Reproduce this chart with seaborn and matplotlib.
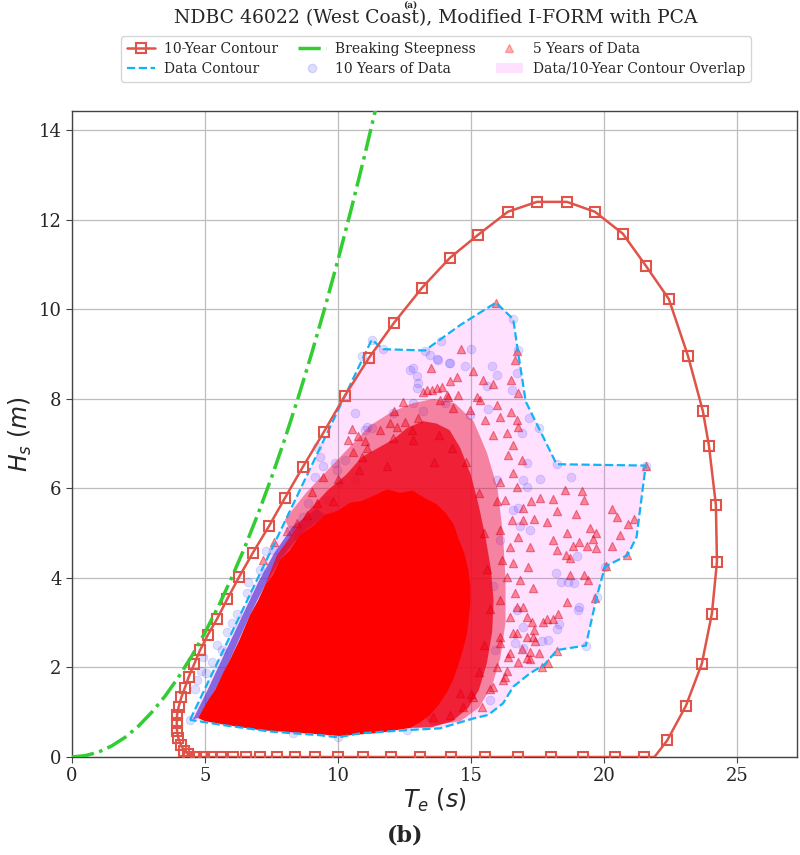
import numpy as np
import matplotlib
matplotlib.use("Agg")
import matplotlib.pyplot as plt
import seaborn as sns
from matplotlib.patches import Polygon, Patch
from matplotlib.lines import Line2D

# ---------------- data ----------------
title = "NDBC 46022 (West Coast), Modified I-FORM with PCA"
x_ticks = [0, 5, 10, 15, 20, 25]
y_ticks = [0, 2, 4, 6, 8, 10, 12, 14]

# 10-year contour (Te, Hs)
c10_te = [4.37, 4.39, 4.68, 4.97, 5.26, 5.62, 6.07, 6.55, 7.07, 7.70, 8.38, 9.15, 10.02,
          10.94, 11.98, 13.07, 14.25, 15.51, 16.76, 18.02, 19.23, 20.43, 21.51, 21.90,
          22.38, 23.08, 23.68, 24.06, 24.25, 24.21, 23.95, 23.72, 23.16, 22.44, 21.58,
          20.71, 19.66, 18.61, 17.48, 16.39, 15.26, 14.21, 13.16, 12.11, 11.17, 10.26,
          9.47, 8.68, 8.01, 7.41, 6.80, 6.28, 5.83, 5.45, 5.10, 4.81, 4.59, 4.39, 4.24,
          4.11, 4.01, 3.95, 3.94, 3.95, 4.00, 4.10, 4.22, 4.37]
c10_hs = [0.06, 0.0, 0.0, 0.0, 0.0, 0.0, 0.0, 0.0, 0.0, 0.0, 0.0, 0.0, 0.0,
          0.0, 0.0, 0.0, 0.0, 0.0, 0.0, 0.0, 0.0, 0.0, 0.0, 0.0,
          0.37, 1.14, 2.08, 3.20, 4.36, 5.63, 6.95, 7.73, 8.96, 10.23, 10.97,
          11.69, 12.18, 12.40, 12.40, 12.18, 11.66, 11.15, 10.48, 9.70, 8.92, 8.07,
          7.26, 6.48, 5.79, 5.16, 4.56, 4.02, 3.52, 3.08, 2.72, 2.38, 2.07, 1.79, 1.54,
          1.33, 1.12, 0.94, 0.75, 0.57, 0.42, 0.26, 0.14, 0.06]

# data contour (Te, Hs)
dc_te = [4.44, 11.27, 11.70, 13.27, 14.60, 15.94, 16.59, 16.76, 17.06, 17.55, 18.22,
         21.57, 21.23, 20.89, 20.04, 19.73, 19.32, 18.24, 17.76, 17.22, 16.59, 16.21,
         15.65, 15.09, 13.83, 12.58, 10.83, 10.01, 9.26, 8.32, 7.44, 7.07, 5.60, 4.44]
dc_hs = [0.83, 9.32, 9.11, 9.08, 9.65, 10.15, 9.78, 9.09, 7.94, 7.35, 6.54,
         6.51, 4.92, 4.51, 4.25, 3.58, 2.49, 2.39, 2.06, 1.87, 1.57, 1.20,
         0.94, 0.86, 0.64, 0.60, 0.53, 0.44, 0.49, 0.53, 0.57, 0.60, 0.72, 0.83]

# breaking steepness (Te, Hs)
bs_te = [0.0, 0.5, 1.0, 1.5, 2.0, 2.5, 3.0, 3.5, 4.0, 4.5, 5.0, 5.5, 6.0, 6.5, 7.0,
         7.5, 8.0, 8.5, 9.0, 9.5, 10.0, 10.5, 11.0, 11.5]
bs_hs = [0.0, 0.03, 0.11, 0.25, 0.44, 0.69, 1.00, 1.36, 1.78, 2.25, 2.78, 3.36, 4.00,
         4.69, 5.44, 6.24, 7.10, 8.02, 8.99, 10.02, 11.10, 12.24, 13.43, 14.68]

# saturated core of the data cloud
core_te = [4.74, 5.10, 5.38, 5.70, 5.94, 6.30, 6.69, 7.00, 7.26, 7.55, 7.82, 8.20, 8.57,
           9.05, 9.51, 10.00, 10.45, 10.90, 11.39, 11.85, 12.33, 12.80, 13.27, 13.70,
           14.05, 14.35, 14.55, 14.75, 14.90, 14.98, 14.98, 14.92, 14.85, 14.70, 14.55,
           14.35, 14.10, 13.80, 13.46, 13.10, 12.71, 11.58, 10.08, 8.57, 7.07, 5.75, 5.00]
core_hs = [0.87, 1.25, 1.50, 1.90, 2.17, 2.62, 3.17, 3.50, 3.84, 4.05, 4.40, 4.62, 4.96,
           5.15, 5.41, 5.50, 5.68, 5.72, 5.85, 5.98, 5.90, 5.95, 5.78, 5.65,
           5.45, 5.20, 4.85, 4.55, 4.18, 3.80, 3.45, 3.10, 2.75, 2.40, 2.10,
           1.75, 1.45, 1.18, 0.94, 0.78, 0.65, 0.54, 0.47, 0.54, 0.60, 0.72, 0.80]
# closely packed 5-year points around the core (inner and outer rings)
packed_te = [7.26, 7.70, 8.30, 8.90, 9.60, 10.30, 10.90, 11.50, 12.10, 12.60, 13.20,
             13.70, 14.20, 14.60, 15.00, 15.30, 15.55, 15.75, 15.85, 15.80, 15.60, 15.30,
             14.90, 14.30, 13.50, 12.70, 10.00, 8.00]
packed_hs = [3.84, 4.50, 5.00, 5.50, 5.95, 6.30, 6.70, 6.90, 7.10, 7.35, 7.50,
             7.45, 7.30, 6.90, 6.30, 5.60, 4.90, 4.20, 3.50, 2.80, 2.10, 1.50,
             1.10, 0.80, 0.66, 0.65, 2.00, 3.00]
outer_te = [8.00, 8.80, 9.60, 10.40, 11.20, 12.00, 12.80, 13.60, 14.40, 15.10, 15.60,
            16.00, 16.20, 16.30, 16.30, 16.10, 15.80, 15.30, 14.60, 13.50, 12.00, 10.00]
outer_hs = [5.30, 5.90, 6.40, 6.90, 7.40, 7.70, 7.90, 8.00, 7.90, 7.50, 6.80,
            6.00, 5.00, 4.00, 3.00, 2.20, 1.60, 1.10, 0.80, 0.70, 2.00, 3.00]
# closely packed 10-year points along the left edge of the core
packed10_te = [4.55, 5.10, 5.65, 6.40, 7.00, 7.60, 8.30, 9.20, 9.51, 8.57, 7.82, 7.26,
               6.69, 5.94, 5.38, 4.74]
packed10_hs = [0.84, 1.50, 2.20, 3.15, 3.90, 4.55, 5.15, 5.55, 5.41, 4.96, 4.40, 3.84,
               3.17, 2.17, 1.50, 0.87]

# scattered 5-year points
t5_te = [18.53, 19.16, 17.59, 18.07, 17.26, 19.25, 18.22, 18.95, 20.29, 20.50, 21.14, 20.91,
         20.60, 19.70, 19.47, 19.58, 19.06, 18.85, 19.35, 19.70, 20.29, 18.60, 17.85, 17.38,
         18.09, 18.22, 18.57, 18.72, 20.88, 20.08, 19.26, 19.41, 18.72, 19.66, 18.62, 18.28,
         17.85, 17.70, 18.07, 17.28, 17.37, 17.09, 17.41, 17.57, 17.66, 17.91, 18.24, 17.22,
         16.93, 21.57,
         13.48, 14.62, 15.06, 14.46, 14.21, 15.84, 16.50, 16.77, 16.64, 16.74, 15.97, 16.49,
         15.44, 13.21, 12.46, 12.11, 13.52, 13.71, 13.90, 14.09, 14.52, 15.21, 15.34, 14.96,
         14.31, 15.54, 16.09, 16.72, 16.78, 11.95, 12.52, 15.94,
         10.52, 10.77, 11.02, 10.39, 10.58, 10.89, 11.08, 12.21, 12.08, 13.02, 13.33, 14.15,
         13.83, 9.45, 9.01, 9.20, 9.82, 8.45, 8.82, 11.58, 11.83, 12.83,
         16.72, 17.09, 16.59, 16.09, 16.40, 16.78, 17.09, 16.34, 16.21, 15.71, 15.40, 15.09,
         14.59, 14.71, 14.21, 13.58, 17.34, 17.22,
         15.84, 16.34, 16.59, 16.40, 16.91, 16.59, 16.09, 16.72, 16.28, 15.97, 16.97, 16.53,
         16.09, 16.97, 16.78, 16.47, 17.22, 16.15, 16.59, 17.15, 16.34, 16.84, 17.34, 16.65,
         16.09, 16.97, 16.47, 16.72, 16.09, 16.47, 15.97, 16.28, 15.84,
         14.80, 14.30, 13.80, 15.30, 15.50, 15.60, 15.70, 15.50, 15.30, 15.00, 10.00, 10.80,
         12.80, 13.60, 7.60, 8.10, 7.20]
t5_hs = [5.97, 5.95, 5.78, 5.77, 5.71, 5.73, 5.50, 5.42, 5.53, 5.36, 5.32, 5.20,
         4.96, 5.00, 5.11, 4.87, 4.81, 4.72, 4.72, 4.66, 4.72, 5.00, 5.24, 5.32,
         4.85, 4.63, 4.51, 4.45, 4.51, 4.27, 4.07, 3.96, 4.07, 3.55, 3.47, 3.20,
         3.09, 3.01, 3.08, 3.02, 2.84, 2.69, 2.60, 2.33, 2.00, 2.11, 2.36, 2.18,
         2.41, 6.51,
         8.69, 9.11, 8.63, 8.48, 8.39, 8.33, 8.42, 8.13, 8.87, 9.08, 7.87, 7.70,
         8.42, 8.16, 7.94, 7.72, 8.20, 8.24, 8.26, 8.09, 8.09, 8.05, 7.98, 7.75,
         7.79, 7.53, 7.59, 7.53, 7.38, 7.46, 7.49, 10.15,
         7.32, 7.16, 7.05, 7.08, 6.82, 6.70, 6.90, 7.38, 7.12, 7.57, 8.20, 8.05,
         7.98, 6.26, 5.93, 5.67, 5.71, 5.22, 5.41, 7.31, 6.49, 7.08,
         3.36, 3.13, 2.76, 2.54, 2.24, 2.13, 2.21, 1.91, 1.72, 1.53, 1.12, 1.35,
         1.42, 1.12, 0.94, 0.90, 2.69, 2.35,
         7.20, 7.23, 6.97, 6.75, 6.64, 6.34, 6.15, 6.04, 5.74, 5.71, 5.56, 5.30,
         5.07, 5.30, 4.92, 4.70, 4.70, 4.40, 4.33, 4.25, 4.03, 3.96, 3.77, 3.66,
         3.51, 3.36, 3.13, 2.76, 2.69, 2.32, 2.02, 1.79, 1.57,
         6.60, 6.90, 7.20, 5.90, 5.00, 4.20, 3.30, 2.50, 1.90, 1.40, 6.20, 6.40,
         7.30, 6.60, 4.80, 5.05, 4.40]

# scattered 10-year points
d10_te = [17.59, 18.75, 19.00, 18.20, 18.88, 19.05, 19.01, 18.31, 18.23, 17.91, 17.66, 16.97,
          17.09, 16.78, 16.59, 16.84, 17.22, 18.66, 18.39, 15.71,
          13.86, 15.00, 15.79, 15.97, 14.77, 14.17, 13.73, 12.96, 12.81, 13.46, 15.59, 16.74,
          16.53, 15.65, 16.91, 17.19, 14.96, 14.02, 12.96, 13.21,
          10.89, 12.71, 13.02, 13.77, 14.21, 10.26, 9.95, 9.89, 9.45, 9.32, 9.14, 10.08,
          10.64, 11.02, 11.08, 11.27, 10.64, 12.08, 12.83, 9.20, 8.88, 8.70, 9.64, 7.07,
          7.57, 8.20, 6.57,
          5.82, 5.44, 5.25, 5.04, 4.84, 4.69, 4.62, 4.91, 5.63,
          16.65, 16.97, 15.97, 17.09, 16.09, 16.72, 15.90, 16.97, 15.84,
          11.27, 11.70, 13.27, 16.59, 21.57, 19.32, 4.44, 19.73, 17.55, 16.76, 18.22, 20.04,
          6.20, 6.60, 7.30, 6.00, 10.00, 8.30, 12.60]
d10_hs = [6.21, 6.26, 4.48, 4.10, 3.88, 3.36, 3.28, 2.97, 2.85, 2.61, 2.60, 6.19,
          6.04, 5.56, 5.52, 5.15, 5.07, 3.90, 3.90, 1.27,
          9.30, 9.11, 8.74, 8.54, 8.74, 8.81, 8.89, 8.50, 8.69, 8.98, 8.28, 8.57,
          8.20, 7.77, 7.23, 7.58, 7.64, 7.90, 8.24, 7.72,
          8.95, 8.65, 8.35, 8.87, 8.80, 6.64, 6.41, 6.56, 6.49, 6.71, 6.26, 6.15,
          6.19, 7.31, 7.38, 7.34, 7.68, 7.68, 7.90, 6.93, 5.67, 5.37, 5.74, 4.18,
          4.63, 5.07, 3.66,
          2.80, 2.50, 2.13, 1.87, 1.91, 1.72, 1.53, 2.24, 2.39,
          2.54, 2.43, 6.19, 6.56, 4.85, 3.28, 2.39, 2.91, 3.81,
          9.32, 9.11, 9.08, 9.78, 6.51, 2.49, 0.83, 3.58, 7.35, 9.09, 6.54, 4.25,
          3.20, 3.90, 4.60, 3.00, 0.44, 0.53, 0.60]

labels = ["10-Year Contour", "Data Contour", "Breaking Steepness",
          "10 Years of Data", "5 Years of Data", "Data/10-Year Contour Overlap"]

# ---------------- style ----------------
sns.set_style("whitegrid")
plt.rcParams['font.family'] = ['DejaVu Serif']
plt.rcParams['mathtext.fontset'] = 'dejavusans'

RED = '#df5348'
BLUE = '#12b2f7'
GREEN = '#32cd32'

fig = plt.figure(figsize=(8, 8.55), dpi=100)
ax = fig.add_axes([72 / 800, 98 / 855, 725 / 800, 646 / 855])

# overlap fill (data contour clipped by the 10-year contour)
clip_poly = Polygon(np.column_stack([c10_te, c10_hs]), closed=True, transform=ax.transData)
ov = ax.fill(dc_te, dc_hs, color='magenta', alpha=0.12, lw=0, zorder=1)[0]
ov.set_clip_path(clip_poly)

# 10-year data
sns.scatterplot(x=d10_te, y=d10_hs, marker='o', s=40, color='blue', alpha=0.13,
                edgecolor='blue', linewidth=0.6, ax=ax, zorder=2)
ax.fill(packed10_te, packed10_hs, color='#5536d4', alpha=0.7, lw=0, zorder=2)
# 5-year data
ax.fill(outer_te, outer_hs, color='#e8102e', alpha=0.45, lw=0, zorder=3)
ax.fill(packed_te, packed_hs, color='#f0081c', alpha=0.8, lw=0, zorder=3)
sns.scatterplot(x=t5_te, y=t5_hs, marker='^', s=36, color='red', alpha=0.42,
                edgecolor='#c8002a', linewidth=0.8, ax=ax, zorder=3)
ax.fill(core_te, core_hs, color='red', lw=0, zorder=3)

# contours
sns.lineplot(x=dc_te, y=dc_hs, sort=False, estimator=None, color=BLUE, lw=1.6,
             linestyle='--', ax=ax, zorder=4)
marks = [i for i in range(len(c10_te)) if i not in (0, 23)]
sns.lineplot(x=c10_te, y=c10_hs, sort=False, estimator=None, color=RED, lw=1.8,
             marker='s', markevery=marks, markersize=7, markerfacecolor='none',
             markeredgecolor=RED, markeredgewidth=1.5, ax=ax, zorder=5)
sns.lineplot(x=bs_te, y=bs_hs, sort=False, estimator=None, color=GREEN, lw=2.5,
             linestyle='-.', ax=ax, zorder=5)

if ax.get_legend() is not None:
    ax.get_legend().remove()

ax.set_xlim(0, 27.26)
ax.set_ylim(0, 14.43)
ax.set_xticks(x_ticks)
ax.set_yticks(y_ticks)
ax.tick_params(labelsize=13, length=4, color='#444444', left=True, bottom=True)
ax.grid(True, color='#bdbdbd', lw=0.9)
for s in ax.spines.values():
    s.set_color('#444444')
    s.set_linewidth(1.0)
ax.set_xlabel('$T_e$ $(s)$', fontsize=17, labelpad=1)
ax.set_ylabel('$H_s$ $(m)$', fontsize=17, labelpad=3)

# legend
h = [Line2D([], [], color=RED, lw=1.8, marker='s', markersize=7, markerfacecolor='none',
            markeredgecolor=RED, markeredgewidth=1.5),
     Line2D([], [], color=BLUE, lw=1.6, linestyle='--'),
     Line2D([], [], color=GREEN, lw=2.5, linestyle='-.'),
     Line2D([], [], lw=0, marker='o', markersize=6, color='blue', alpha=0.13),
     Line2D([], [], lw=0, marker='^', markersize=6, color='red', alpha=0.3),
     Patch(facecolor='magenta', alpha=0.12, lw=0)]
fig.legend(h, labels, ncol=3, loc='center', bbox_to_anchor=(436 / 800, 1 - 59 / 855),
           fontsize=10, frameon=True, edgecolor='#cccccc', handlelength=2.0,
           columnspacing=1.4, borderpad=0.4, labelspacing=0.45, handletextpad=0.7)

fig.text(436 / 800, 1 - 18 / 855, title, ha='center', va='center', fontsize=13.5)
fig.text(410 / 800, 1 - 1 / 855, '(a)', ha='center', va='top', fontsize=6.5, fontweight='bold')
fig.text(405 / 800, 1 - 835 / 855, '(b)', ha='center', va='center', fontsize=16,
         fontweight='bold')

fig.savefig('out.png', dpi=100)
